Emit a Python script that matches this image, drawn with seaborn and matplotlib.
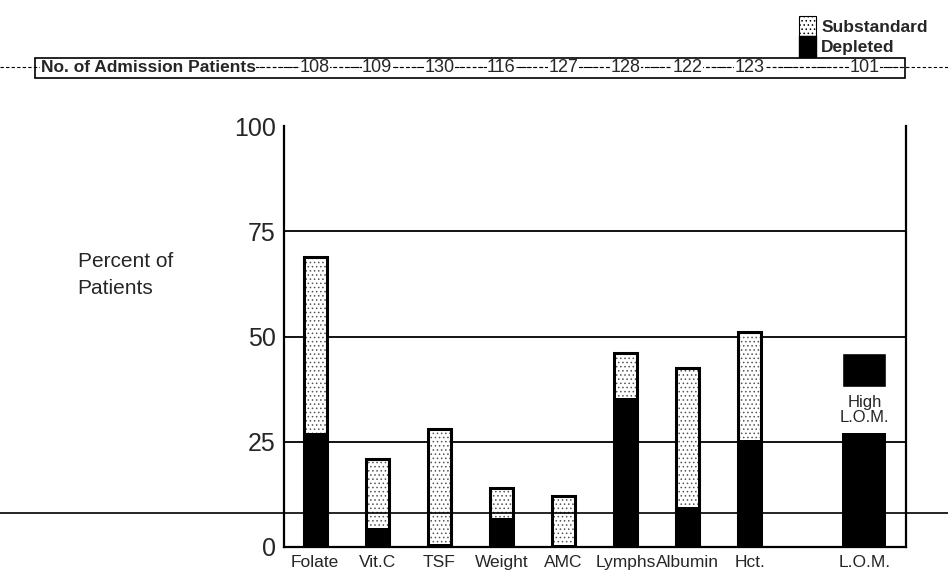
import pandas as pd
import seaborn as sns
import matplotlib.pyplot as plt
from matplotlib.patches import Patch, Rectangle
from matplotlib.lines import Line2D
import matplotlib.transforms as mtransforms

# Data
categories = ["Folate", "Vit.C", "TSF", "Weight", "AMC", "Lymphs", "Albumin", "Hct.", "L.O.M."]
positions = [0, 1, 2, 3, 4, 5, 6, 7, 8.85]
n_patients = [108, 109, 130, 116, 127, 128, 122, 123, 101]
total_pct = [69, 21, 28, 14, 12, 46, 42.5, 51, 27]      # substandard + depleted
depleted_pct = [27, 4.5, 0.8, 7, 0.5, 35.5, 9.5, 25.5, 27]
high_lom = [38, 46]  # floating "High L.O.M." box, bottom/top in %

sns.set_style("white")
plt.rcParams["font.family"] = ["Liberation Sans", "DejaVu Sans"]
plt.rcParams["hatch.linewidth"] = 0.6

df = pd.DataFrame({"cat": categories, "x": positions, "total": total_pct, "dep": depleted_pct})
main = df.iloc[:8]
lom = df.iloc[8:]

fig = plt.figure(figsize=(9.48, 5.84), dpi=100)
ax = fig.add_axes([0.2996, 0.0634, 0.6561, 0.7208])
ax.set_zorder(5)
ax.patch.set_alpha(0)

# gridlines behind bars
for v in [25, 50, 75]:
    ax.axhline(v, color="black", lw=1.3, zorder=0)

# stippled totals, black depleted, then outlines
sns.barplot(data=main, x="x", y="total", native_scale=True, width=0.37, color="white",
            hatch="....", edgecolor="#555555", linewidth=0, errorbar=None, ax=ax, zorder=2)
sns.barplot(data=main, x="x", y="dep", native_scale=True, width=0.37, color="black",
            edgecolor="black", linewidth=0, errorbar=None, ax=ax, zorder=3)
sns.barplot(data=main, x="x", y="total", native_scale=True, width=0.37, color="black",
            fill=False, linewidth=2.2, errorbar=None, ax=ax, zorder=4)
sns.barplot(data=lom, x="x", y="dep", native_scale=True, width=0.71, color="black",
            edgecolor="black", linewidth=0, errorbar=None, ax=ax, zorder=3)
ax.bar(lom["x"], high_lom[1] - high_lom[0], bottom=high_lom[0], width=0.71,
       color="black", zorder=3)
ax.text(lom["x"].iloc[0], (high_lom[0] + lom["dep"].iloc[0]) / 2, "High\nL.O.M.",
        ha="center", va="center", fontsize=12, linespacing=1.0, zorder=5)

ax.set_xlim(-0.5, 9.52)
ax.set_ylim(0, 100)
ax.set_yticks([0, 25, 50, 75, 100])
ax.set_yticklabels(["0", "25", "50", "75", "100"], fontsize=18)
ax.set_xticks(positions)
ax.set_xticklabels(categories, fontsize=12.5)
ax.tick_params(axis="both", length=0, pad=6)
ax.set_xlabel("")
ax.set_ylabel("")
for s in ["left", "right", "bottom"]:
    ax.spines[s].set_color("black")
    ax.spines[s].set_linewidth(1.6)
ax.spines["top"].set_visible(False)

fig.text(0.082, 0.529, "Percent of\nPatients", fontsize=15, ha="left", va="center",
         linespacing=1.5)

# scan line crossing the page
fig.add_artist(Line2D([0, 1], [0.1216, 0.1216], color="black", lw=1.2, zorder=6))

# header row with patient counts
fig.add_artist(Line2D([0, 1], [0.885, 0.885], color="black", lw=0.8, ls=(0, (3, 2))))
fig.add_artist(Rectangle((0.037, 0.866), 0.918, 0.034, facecolor="white",
                         edgecolor="black", lw=1.2, zorder=1))
fig.add_artist(Line2D([0.26, 0.955], [0.885, 0.885], color="black", lw=0.8,
                      ls=(0, (3, 3)), zorder=2))
fig.text(0.043, 0.884, "No. of Admission Patients", fontsize=12.5, fontweight="bold",
         ha="left", va="center", zorder=3,
         bbox=dict(facecolor="white", edgecolor="none", pad=0.5))
trans = mtransforms.blended_transform_factory(ax.transData, fig.transFigure)
for x, n in zip(positions, n_patients):
    ax.text(x, 0.884, str(n), transform=trans, fontsize=13, ha="center", va="center",
            clip_on=False, bbox=dict(facecolor="white", edgecolor="none", pad=0.2))

# legend
handles = [Patch(facecolor="white", hatch="....", edgecolor="black", linewidth=0.8),
           Patch(facecolor="black", edgecolor="black")]
fig.legend(handles, ["Substandard", "Depleted"], loc="upper right",
           bbox_to_anchor=(0.995, 1.0), frameon=False,
           handlelength=1.0, handleheight=1.45, labelspacing=0.0, handletextpad=0.3,
           prop={"weight": "bold", "size": 12.5})

fig.savefig("out.png", dpi=100)
